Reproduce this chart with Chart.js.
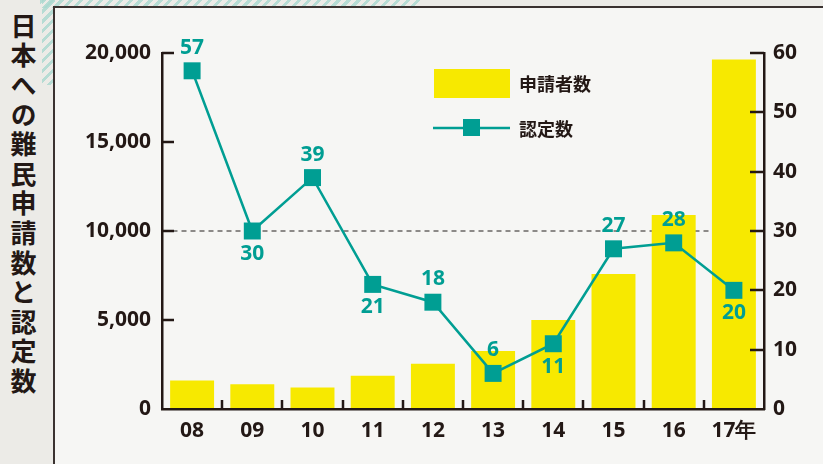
<!DOCTYPE html>
<html>
<head>
<meta charset="utf-8">
<script src="https://cdn.jsdelivr.net/npm/chart.js@4/dist/chart.umd.min.js"></script>
<style>
  html, body { margin: 0; padding: 0; }
  body {
    width: 823px; height: 464px; position: relative; overflow: hidden;
    background: #ecebe7;
  }
  .stripes-top {
    position: absolute; left: 40px; top: 0; width: 380px; height: 8px;
    background: repeating-linear-gradient(135deg, #a9d8cf 0 3px, transparent 3px 7px);
    opacity: 0.8;
  }
  .stripes-left {
    position: absolute; left: 42px; top: 0; width: 13px; height: 85px;
    background: repeating-linear-gradient(135deg, #a9d8cf 0 3px, transparent 3px 7px);
    opacity: 0.8;
  }
  .panel {
    position: absolute; left: 53px; top: 6px; right: 0; bottom: 0;
    background: #f6f6f4;
    border-left: 2.5px solid #3a3230;
    border-top: 2.5px solid #3a3230;
  }
  .title {
    position: absolute; left: 10px; top: 13px;
    writing-mode: vertical-rl; text-orientation: upright;
    font-family: "Noto Sans CJK JP", sans-serif; font-weight: 700;
    font-size: 26px; letter-spacing: 3.6px; line-height: 1;
    color: #231815;
  }
  #chart { position: absolute; left: 0; top: 0; }
</style>
</head>
<body>
<div class="stripes-top"></div>
<div class="stripes-left"></div>
<div class="panel"></div>
<div class="title">日本への難民申請数と認定数</div>
<canvas id="chart" width="823" height="464"></canvas>
<script>
// data
const years = ['08', '09', '10', '11', '12', '13', '14', '15', '16', '17年'];
const applicants = [1599, 1388, 1202, 1867, 2545, 3260, 5000, 7586, 10901, 19629];
const recognized = [57, 30, 39, 21, 18, 6, 11, 27, 28, 20];
const leftTicks = [0, 5000, 10000, 15000, 20000];
const rightTicks = [0, 10, 20, 30, 40, 50, 60];

// which labels sit under the point
const labelBelow = [false, true, false, true, false, false, true, false, false, true];

const INK = '#231815';
const TEAL = '#009e93';
const YELLOW = '#f7e900';
const NUM_FONT = '"Noto Sans", "DejaVu Sans", sans-serif';
const JP_FONT = '"Noto Sans CJK JP", sans-serif';

// inward ticks, point labels and legend
const decorations = {
    id: 'decorations',
    afterDraw(chart) {
        const ctx = chart.ctx;
        const area = chart.chartArea;
        const y = chart.scales.y, y1 = chart.scales.y1, x = chart.scales.x;
        ctx.save();
        ctx.strokeStyle = INK;
        ctx.lineWidth = 2.5;
        ctx.beginPath();
        leftTicks.slice(1).forEach(v => {
            const py = Math.round(y.getPixelForValue(v));
            ctx.moveTo(area.left, py); ctx.lineTo(area.left + 12, py);
        });
        rightTicks.slice(1).forEach(v => {
            const py = Math.round(y1.getPixelForValue(v));
            ctx.moveTo(area.right, py); ctx.lineTo(area.right - 14, py);
        });
        for (let i = 1; i < years.length; i++) {
            const px = Math.round((x.getPixelForValue(i - 1) + x.getPixelForValue(i)) / 2);
            ctx.moveTo(px, area.bottom); ctx.lineTo(px, area.bottom - 9);
        }
        ctx.stroke();

        // value labels on the line
        const meta = chart.getDatasetMeta(1);
        ctx.fillStyle = TEAL;
        ctx.font = '700 21px ' + NUM_FONT;
        ctx.textAlign = 'center';
        ctx.textBaseline = 'middle';
        meta.data.forEach((pt, i) => {
            const off = labelBelow[i] ? 23 : -23;
            ctx.fillText(String(recognized[i]), pt.x, pt.y + off);
        });

        // legend
        ctx.fillStyle = YELLOW;
        ctx.fillRect(434, 69, 76, 29);
        ctx.strokeStyle = TEAL;
        ctx.lineWidth = 2.5;
        ctx.beginPath();
        ctx.moveTo(433, 128); ctx.lineTo(510, 128);
        ctx.stroke();
        ctx.fillStyle = TEAL;
        ctx.fillRect(463, 119, 17, 17);
        ctx.fillStyle = INK;
        ctx.font = '700 18px ' + JP_FONT;
        ctx.textAlign = 'left';
        ctx.fillText('申請者数', 519, 84);
        ctx.fillText('認定数', 519, 129);
        ctx.restore();
    }
};

const tickFont = { family: NUM_FONT, size: 21, weight: '700' };

const ctx = document.getElementById('chart').getContext('2d');
new Chart(ctx, {
    data: {
        labels: years,
        datasets: [{
            type: 'bar',
            label: '申請者数',
            data: applicants,
            backgroundColor: YELLOW,
            yAxisID: 'y',
            order: 1,
            barPercentage: 0.73,
            categoryPercentage: 1
        }, {
            type: 'line',
            label: '認定数',
            data: recognized,
            borderColor: TEAL,
            backgroundColor: TEAL,
            borderWidth: 2.5,
            tension: 0,
            pointStyle: 'rect',
            pointRadius: 12,
            pointBorderWidth: 0,
            yAxisID: 'y1',
            order: 0
        }]
    },
    options: {
        responsive: false,
        animation: false,
        layout: { padding: { top: 53, left: 0, right: 0, bottom: 0 } },
        plugins: {
            legend: { display: false },
            tooltip: { enabled: false }
        },
        scales: {
            x: {
                grid: { display: false, drawTicks: false },
                border: { color: INK, width: 2.5 },
                ticks: { color: INK, padding: 9, font: tickFont },
                afterFit(scale) { scale.height = 55; }
            },
            y: {
                position: 'left',
                min: 0, max: 20000,
                afterBuildTicks(scale) { scale.ticks = leftTicks.map(v => ({ value: v })); },
                grid: {
                    drawTicks: false,
                    color: c => c.tick && c.tick.value === 10000 ? '#8c8a88' : 'rgba(0,0,0,0)',
                    lineWidth: 2
                },
                border: { color: INK, width: 2.5, dash: [5, 4] },
                ticks: {
                    color: INK, padding: 11, font: tickFont,
                    callback: v => v.toLocaleString('en-US')
                },
                afterFit(scale) { scale.width = 162; }
            },
            y1: {
                position: 'right',
                min: 0, max: 60,
                afterBuildTicks(scale) { scale.ticks = rightTicks.map(v => ({ value: v })); },
                grid: { display: false, drawTicks: false },
                border: { color: INK, width: 2.5 },
                ticks: { color: INK, padding: 9, font: tickFont },
                afterFit(scale) { scale.width = 59; }
            }
        }
    },
    plugins: [decorations]
});
</script>
</body>
</html>
